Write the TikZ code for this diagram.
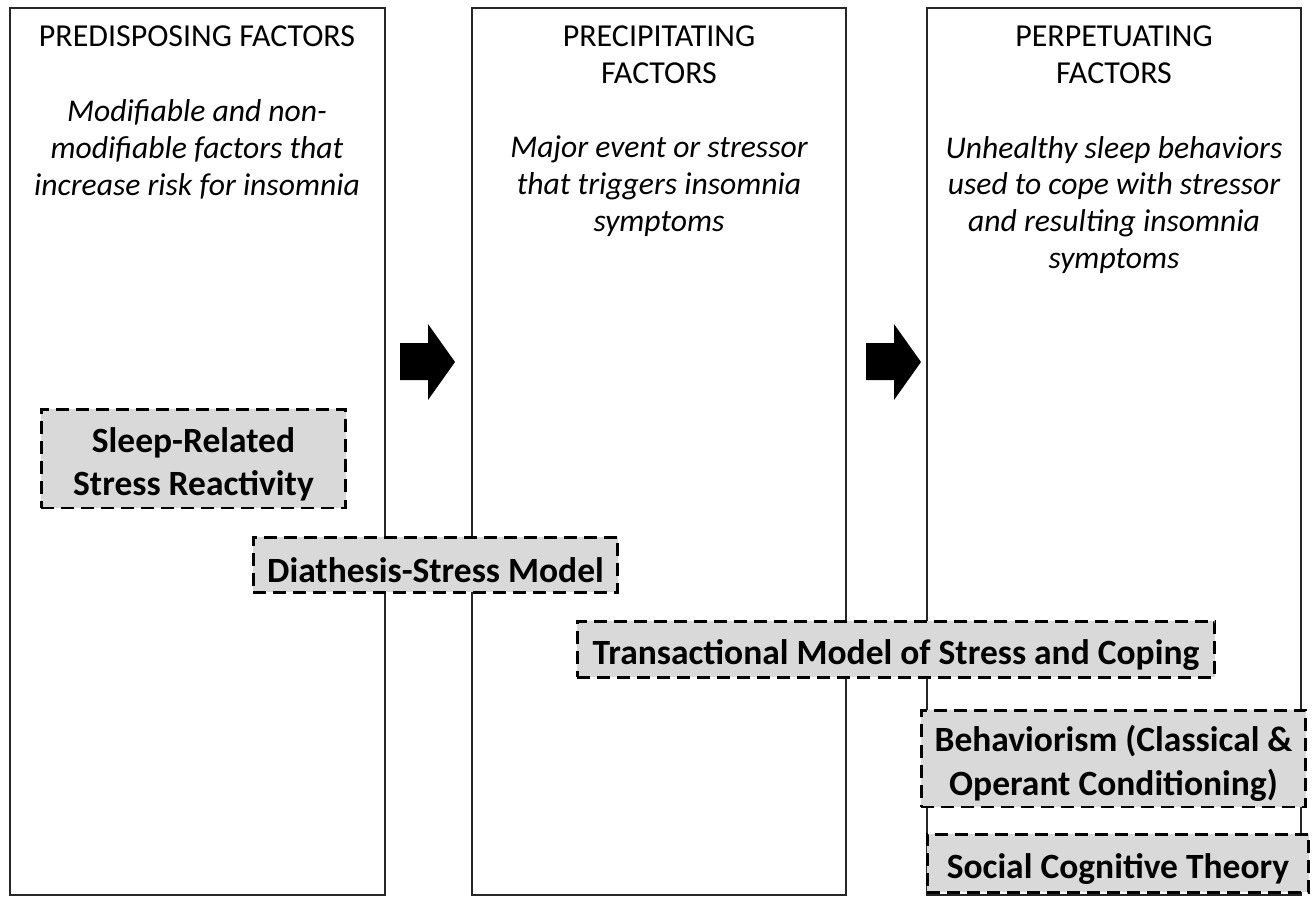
\documentclass[tikz,border=0pt]{standalone}
\usepackage{fontspec}
\setmainfont{Carlito}

\begin{document}
\begin{tikzpicture}[x=0.02cm, y=-0.02cm,
  column/.style={draw=black!85, line width=0.9pt},
  heading/.style={align=center, font=\fontsize{18.2}{21}\selectfont},
  descr/.style={align=center, font=\fontsize{18}{21}\selectfont\itshape},
  theory/.style={draw=black, fill=black!15, line width=1.7pt, dash pattern=on 7.4pt off 4pt,
                 align=center, inner sep=0pt, font=\fontsize{20.2}{24.5}\selectfont\bfseries,
                 execute at begin node={\rule{0pt}{#1}}},
  theory/.default=21pt,
  blockarrow/.style={fill=black}]
\useasboundingbox (0,0) rectangle (1316,897);
% the three factor columns
\draw[column] (10,8) rectangle (385,895);
\draw[column] (472,8) rectangle (846,895);
\draw[column] (927,8) rectangle (1301,895);
% headings
\node[heading] (predH) at (197,36) {PREDISPOSING FACTORS};
\node[heading] (precH) at (659,55) {PRECIPITATING\\FACTORS};
\node[heading] (perpH) at (1114,55) {PERPETUATING\\FACTORS};
% descriptions
\node[descr] (predD) at (197,149) {Modifiable and non-\\modifiable factors that\\increase risk for insomnia};
\node[descr] (precD) at (659,186) {Major event or stressor\\that triggers insomnia\\symptoms};
\node[descr] (perpD) at (1114,205) {Unhealthy sleep behaviors\\used to cope with stressor\\and resulting insomnia\\symptoms};
% block arrows between columns
\foreach \ax in {400,866}{
  \fill[blockarrow] (\ax,343) -- (\ax+28,343) -- (\ax+28,324) -- (\ax+55,362)
    -- (\ax+28,400) -- (\ax+28,380) -- (\ax,380) -- cycle;
}
% theories
\node[theory=45pt, minimum width=6.1cm, minimum height=1.98cm] (reactivity) at (193.5,458.5)
  {Sleep-Related\\Stress Reactivity};
\node[theory, minimum width=7.3cm, minimum height=1.1cm] (diathesis) at (435.5,564.5)
  {Diathesis-Stress Model};
\node[theory, minimum width=12.76cm, minimum height=1.12cm] (transact) at (896,649)
  {Transactional Model of Stress and Coping};
\node[theory=45pt, minimum width=7.7cm, minimum height=1.94cm] (behavior) at (1113.5,758.5)
  {Behaviorism (Classical \&\\Operant Conditioning)};
\node[theory, minimum width=7.64cm, minimum height=1.16cm] (social) at (1118,863)
  {Social Cognitive Theory};
\end{tikzpicture}
\end{document}
